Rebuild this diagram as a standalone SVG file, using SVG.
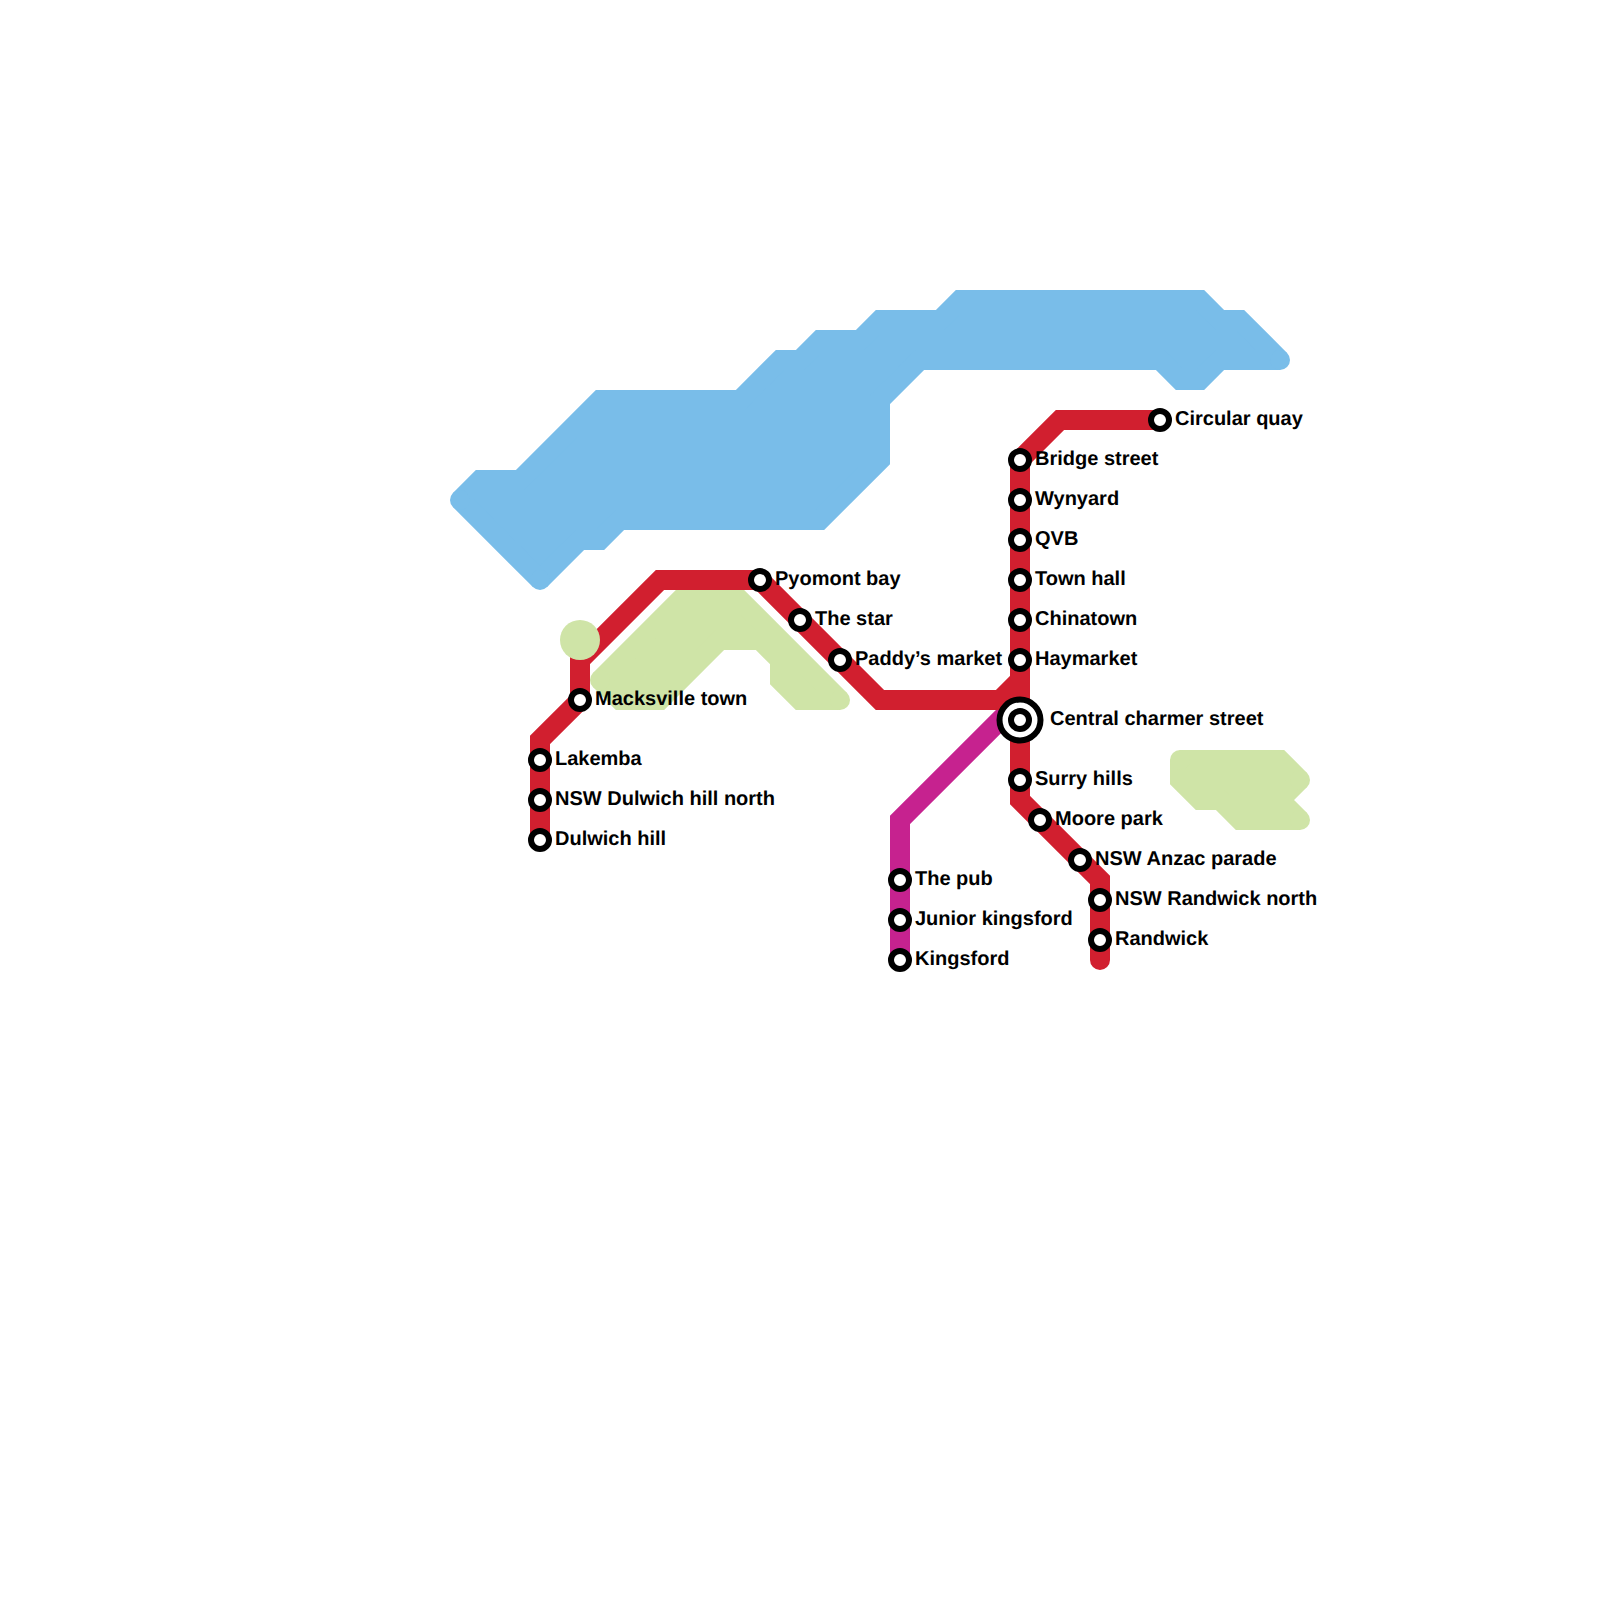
<svg xmlns="http://www.w3.org/2000/svg" width="1600" height="1600" viewBox="0 0 1600 1600">
<style>
.water{fill:#79bde9;stroke:#79bde9;stroke-width:20;stroke-linejoin:miter;stroke-miterlimit:1.2}
.park{fill:#cfe4a7;stroke:#cfe4a7;stroke-width:20;stroke-linejoin:miter;stroke-miterlimit:1.2}
.wt{fill:#79bde9}
.pt{fill:#cfe4a7}
.line{fill:none;stroke-width:20;stroke-linejoin:miter;stroke-miterlimit:1.2;stroke-linecap:round}
.red{stroke:#d11f2f}
.purple{stroke:#c6228f}
.st{fill:#fff;stroke:#000;stroke-width:6}
.lb{font-family:"Liberation Sans",Arial,sans-serif;font-size:20px;font-weight:700;fill:#000;text-rendering:geometricPrecision}
</style>
<rect width="1600" height="1600" fill="#fff"/>
<g id="water"><path class="water" d="M460 500L480 480H520L600 400H740L780 360H800L820 340H860L880 320H940L960 300H1200L1220 320H1240L1280 360H1220L1200 380H1180L1160 360H920L880 400V460L820 520H620L600 540H580L540 580Z"/>
<circle class="wt" cx="460" cy="500" r="10"/><circle class="wt" cx="540" cy="580" r="10"/><circle class="wt" cx="1280" cy="360" r="10"/></g>
<g id="connectors">
<path class="line purple" d="M900 960V820L1020 700"/>
<path class="line red" d="M1160 420H1060L1020 460V680L1000 700H880L760 580H660L580 660V700L540 740V840"/>
<path class="line red" d="M1020 680V800L1100 880V960"/>
</g>
<g id="parks">
<circle class="pt" cx="580" cy="640" r="20"/>
<path class="park" d="M680 600H740L840 700H800L780 680V660L760 640H720L660 700H620L600 680Z"/>
<circle class="pt" cx="840" cy="700" r="10"/><circle class="pt" cx="600" cy="680" r="10"/>
<path class="park" d="M1180 760H1280L1300 780L1280 800L1300 820H1240L1220 800H1200L1180 780Z"/>
<circle class="pt" cx="1180" cy="760" r="10"/><circle class="pt" cx="1300" cy="780" r="10"/><circle class="pt" cx="1300" cy="820" r="10"/>
</g>
<g id="circular-quay"><circle class="st" cx="1160" cy="420" r="9"/><text class="lb" x="1175" y="425">Circular quay</text></g>
<g id="bridge-street"><circle class="st" cx="1020" cy="460" r="9"/><text class="lb" x="1035" y="465">Bridge street</text></g>
<g id="wynyard"><circle class="st" cx="1020" cy="500" r="9"/><text class="lb" x="1035" y="505">Wynyard</text></g>
<g id="qvb"><circle class="st" cx="1020" cy="540" r="9"/><text class="lb" x="1035" y="545">QVB</text></g>
<g id="town-hall"><circle class="st" cx="1020" cy="580" r="9"/><text class="lb" x="1035" y="585">Town hall</text></g>
<g id="chinatown"><circle class="st" cx="1020" cy="620" r="9"/><text class="lb" x="1035" y="625">Chinatown</text></g>
<g id="haymarket"><circle class="st" cx="1020" cy="660" r="9"/><text class="lb" x="1035" y="665">Haymarket</text></g>
<g id="central"><circle class="st" cx="1020" cy="720" r="20.5"/><circle class="st" cx="1020" cy="720" r="9"/><text class="lb" x="1050" y="725">Central charmer street</text></g>
<g id="surry-hills"><circle class="st" cx="1020" cy="780" r="9"/><text class="lb" x="1035" y="785">Surry hills</text></g>
<g id="moore-park"><circle class="st" cx="1040" cy="820" r="9"/><text class="lb" x="1055" y="825">Moore park</text></g>
<g id="anzac-parade"><circle class="st" cx="1080" cy="860" r="9"/><text class="lb" x="1095" y="865">NSW Anzac parade</text></g>
<g id="randwick-north"><circle class="st" cx="1100" cy="900" r="9"/><text class="lb" x="1115" y="905">NSW Randwick north</text></g>
<g id="randwick"><circle class="st" cx="1100" cy="940" r="9"/><text class="lb" x="1115" y="945">Randwick</text></g>
<g id="pyomont-bay"><circle class="st" cx="760" cy="580" r="9"/><text class="lb" x="775" y="585">Pyomont bay</text></g>
<g id="the-star"><circle class="st" cx="800" cy="620" r="9"/><text class="lb" x="815" y="625">The star</text></g>
<g id="paddys-market"><circle class="st" cx="840" cy="660" r="9"/><text class="lb" x="855" y="665">Paddy’s market</text></g>
<g id="macksville-town"><circle class="st" cx="580" cy="700" r="9"/><text class="lb" x="595" y="705">Macksville town</text></g>
<g id="lakemba"><circle class="st" cx="540" cy="760" r="9"/><text class="lb" x="555" y="765">Lakemba</text></g>
<g id="dulwich-hill-north"><circle class="st" cx="540" cy="800" r="9"/><text class="lb" x="555" y="805">NSW Dulwich hill north</text></g>
<g id="dulwich-hill"><circle class="st" cx="540" cy="840" r="9"/><text class="lb" x="555" y="845">Dulwich hill</text></g>
<g id="the-pub"><circle class="st" cx="900" cy="880" r="9"/><text class="lb" x="915" y="885">The pub</text></g>
<g id="junior-kingsford"><circle class="st" cx="900" cy="920" r="9"/><text class="lb" x="915" y="925">Junior kingsford</text></g>
<g id="kingsford"><circle class="st" cx="900" cy="960" r="9"/><text class="lb" x="915" y="965">Kingsford</text></g>
</svg>
